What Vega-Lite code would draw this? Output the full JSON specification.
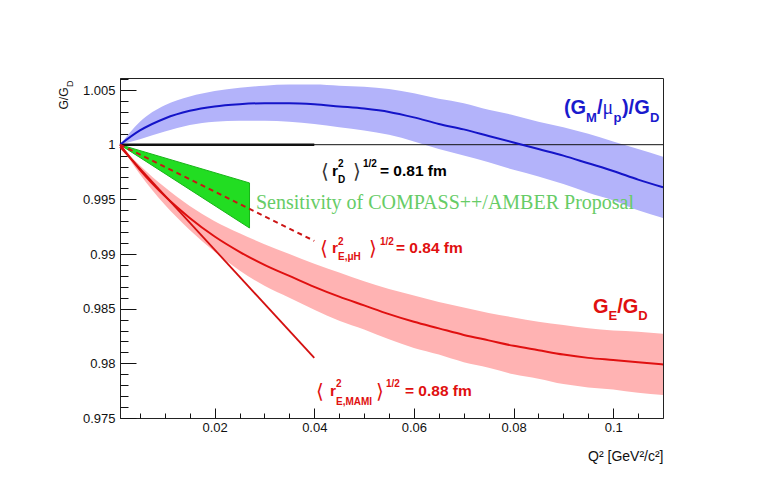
{
  "$schema": "https://vega.github.io/schema/vega-lite/v6.json",
  "width": 543,
  "height": 340,
  "autosize": "none",
  "padding": {"left": 120, "top": 78, "right": 105, "bottom": 59},
  "background": "white",
  "config": {
    "font": "Liberation Sans",
    "view": {"stroke": "#222", "strokeWidth": 1},
    "axis": {
      "grid": false,
      "zindex": 1,
      "tickColor": "#111",
      "domainColor": "#222",
      "labelColor": "#111",
      "labelFont": "Liberation Sans",
      "labelFontSize": 13,
      "labelFlush": false,
      "labelOverlap": false,
      "titleFont": "Liberation Sans",
      "titleFontWeight": "normal",
      "titleColor": "#111"
    }
  },
  "datasets": {
    "blue": [
      {"q": 0.001, "v": 1.0000, "lo": 1.0000, "hi": 1.0000},
      {"q": 0.005, "v": 1.0013, "lo": 1.0005, "hi": 1.0021},
      {"q": 0.010, "v": 1.0024, "lo": 1.0012, "hi": 1.0036},
      {"q": 0.015, "v": 1.0031, "lo": 1.0018, "hi": 1.0044},
      {"q": 0.020, "v": 1.0035, "lo": 1.0021, "hi": 1.0049},
      {"q": 0.025, "v": 1.0037, "lo": 1.0022, "hi": 1.0052},
      {"q": 0.030, "v": 1.0038, "lo": 1.0022, "hi": 1.0054},
      {"q": 0.035, "v": 1.0038, "lo": 1.0021, "hi": 1.0055},
      {"q": 0.040, "v": 1.0037, "lo": 1.0019, "hi": 1.0055},
      {"q": 0.045, "v": 1.0035, "lo": 1.0016, "hi": 1.0054},
      {"q": 0.050, "v": 1.0033, "lo": 1.0013, "hi": 1.0053},
      {"q": 0.055, "v": 1.0030, "lo": 1.0009, "hi": 1.0051},
      {"q": 0.060, "v": 1.0025, "lo": 1.0003, "hi": 1.0047},
      {"q": 0.065, "v": 1.0019, "lo": 0.9996, "hi": 1.0042},
      {"q": 0.070, "v": 1.0014, "lo": 0.9990, "hi": 1.0038},
      {"q": 0.075, "v": 1.0008, "lo": 0.9984, "hi": 1.0032},
      {"q": 0.080, "v": 1.0002, "lo": 0.9977, "hi": 1.0027},
      {"q": 0.085, "v": 0.9996, "lo": 0.9971, "hi": 1.0021},
      {"q": 0.090, "v": 0.9990, "lo": 0.9964, "hi": 1.0016},
      {"q": 0.095, "v": 0.9983, "lo": 0.9956, "hi": 1.0010},
      {"q": 0.100, "v": 0.9976, "lo": 0.9949, "hi": 1.0003},
      {"q": 0.105, "v": 0.9968, "lo": 0.9940, "hi": 0.9996},
      {"q": 0.110, "v": 0.9961, "lo": 0.9933, "hi": 0.9989}
    ],
    "red": [
      {"q": 0.001, "v": 1.0000, "lo": 1.0000, "hi": 1.0000},
      {"q": 0.005, "v": 0.9977, "lo": 0.9973, "hi": 0.9981},
      {"q": 0.010, "v": 0.9953, "lo": 0.9945, "hi": 0.9961},
      {"q": 0.015, "v": 0.9933, "lo": 0.9922, "hi": 0.9944},
      {"q": 0.020, "v": 0.9916, "lo": 0.9902, "hi": 0.9930},
      {"q": 0.025, "v": 0.9902, "lo": 0.9885, "hi": 0.9919},
      {"q": 0.030, "v": 0.9890, "lo": 0.9871, "hi": 0.9909},
      {"q": 0.035, "v": 0.9880, "lo": 0.9860, "hi": 0.9900},
      {"q": 0.040, "v": 0.9870, "lo": 0.9849, "hi": 0.9891},
      {"q": 0.045, "v": 0.9861, "lo": 0.9839, "hi": 0.9883},
      {"q": 0.050, "v": 0.9853, "lo": 0.9831, "hi": 0.9875},
      {"q": 0.055, "v": 0.9845, "lo": 0.9822, "hi": 0.9868},
      {"q": 0.060, "v": 0.9838, "lo": 0.9814, "hi": 0.9862},
      {"q": 0.065, "v": 0.9832, "lo": 0.9808, "hi": 0.9856},
      {"q": 0.070, "v": 0.9826, "lo": 0.9801, "hi": 0.9851},
      {"q": 0.075, "v": 0.9821, "lo": 0.9796, "hi": 0.9846},
      {"q": 0.080, "v": 0.9816, "lo": 0.9790, "hi": 0.9842},
      {"q": 0.085, "v": 0.9812, "lo": 0.9786, "hi": 0.9838},
      {"q": 0.090, "v": 0.9808, "lo": 0.9781, "hi": 0.9835},
      {"q": 0.095, "v": 0.9805, "lo": 0.9778, "hi": 0.9832},
      {"q": 0.100, "v": 0.9803, "lo": 0.9776, "hi": 0.9830},
      {"q": 0.105, "v": 0.9801, "lo": 0.9773, "hi": 0.9829},
      {"q": 0.110, "v": 0.9799, "lo": 0.9771, "hi": 0.9827}
    ],
    "green": [
      {"q": 0.001, "lo": 1.0000, "hi": 1.0000},
      {"q": 0.027, "lo": 0.99238, "hi": 0.9965}
    ]
  },
  "encoding": {
    "x": {"field": "q", "type": "quantitative", "scale": {"domain": [0.001, 0.11], "nice": false, "zero": false}, "axis": null},
    "y": {"field": "v", "type": "quantitative", "scale": {"domain": [0.975, 1.0061], "nice": false, "zero": false}, "axis": null}
  },
  "layer": [
    {
      "data": {"name": "blue"},
      "mark": {"type": "area", "fill": "#b3b3fa", "interpolate": "monotone"},
      "encoding": {
        "x": {
          "field": "q", "type": "quantitative",
          "scale": {"domain": [0.001, 0.11], "nice": false, "zero": false},
          "axis": {
            "orient": "bottom",
            "values": [0.02, 0.04, 0.06, 0.08, 0.1],
            "format": "~g",
            "tickSize": -10,
            "labelPadding": 13,
            "title": "Q² [GeV²/c²]",
            "titleFontSize": 14,
            "titleAnchor": "end",
            "titleAlign": "right",
            "titleBaseline": "alphabetic",
            "titleX": 543,
            "titleY": 42
          }
        },
        "y": {
          "field": "lo", "type": "quantitative",
          "scale": {"domain": [0.975, 1.0061], "nice": false, "zero": false},
          "axis": {
            "orient": "left",
            "values": [0.975, 0.98, 0.985, 0.99, 0.995, 1, 1.005],
            "format": "~g",
            "tickSize": -16,
            "labelPadding": 21,
            "title": "G/G",
            "titleFontSize": 12,
            "titleAngle": -90,
            "titleAlign": "right",
            "titleBaseline": "alphabetic",
            "titleX": -53,
            "titleY": 9
          }
        },
        "y2": {"field": "hi"}
      }
    },
    {
      "data": {"name": "red"},
      "mark": {"type": "area", "fill": "#ffb3b3", "interpolate": "monotone"},
      "encoding": {
        "x": {
          "field": "q", "type": "quantitative",
          "scale": {"domain": [0.001, 0.11], "nice": false, "zero": false},
          "axis": {
            "orient": "bottom",
            "values": [0.005, 0.01, 0.015, 0.025, 0.03, 0.035, 0.045, 0.05, 0.055, 0.065, 0.07, 0.075, 0.085, 0.09, 0.095, 0.105],
            "labels": false,
            "domain": false,
            "tickSize": -5,
            "title": null
          }
        },
        "y": {
          "field": "lo", "type": "quantitative",
          "scale": {"domain": [0.975, 1.0061], "nice": false, "zero": false},
          "axis": {
            "orient": "left",
            "values": [0.976, 0.977, 0.978, 0.979, 0.981, 0.982, 0.983, 0.984, 0.986, 0.987, 0.988, 0.989, 0.991, 0.992, 0.993, 0.994, 0.996, 0.997, 0.998, 0.999, 1.001, 1.002, 1.003, 1.004, 1.006],
            "labels": false,
            "domain": false,
            "tickSize": -8,
            "title": "D",
            "titleFontSize": 9,
            "titleAngle": -90,
            "titleAlign": "right",
            "titleBaseline": "alphabetic",
            "titleX": -48,
            "titleY": 2
          }
        },
        "y2": {"field": "hi"}
      }
    },
    {
      "data": {"name": "green"},
      "mark": {"type": "area", "fill": "#22dd22", "stroke": "#18b418", "strokeWidth": 1},
      "encoding": {
        "y": {"field": "lo", "type": "quantitative", "scale": {"domain": [0.975, 1.0061], "nice": false, "zero": false}, "axis": null},
        "y2": {"field": "hi"}
      }
    },
    {
      "data": {"values": [{"q": 0.001, "v": 1.0}, {"q": 0.11, "v": 1.0}]},
      "mark": {"type": "line", "color": "#111", "strokeWidth": 1},
      "encoding": {}
    },
    {
      "data": {"values": [{"q": 0.001, "v": 1.0}, {"q": 0.04, "v": 1.0}]},
      "mark": {"type": "line", "color": "#111", "strokeWidth": 2.5},
      "encoding": {}
    },
    {
      "data": {"name": "blue"},
      "mark": {"type": "line", "color": "#1414c8", "strokeWidth": 2, "interpolate": "monotone"},
      "encoding": {}
    },
    {
      "data": {"name": "red"},
      "mark": {"type": "line", "color": "#e01010", "strokeWidth": 2, "interpolate": "monotone"},
      "encoding": {}
    },
    {
      "data": {"values": [{"q": 0.001, "v": 0.9998}, {"q": 0.04, "v": 0.9805}]},
      "mark": {"type": "line", "color": "#d41010", "strokeWidth": 1.8},
      "encoding": {}
    },
    {
      "data": {"values": [{"q": 0.001, "v": 1.0}, {"q": 0.04, "v": 0.9912}]},
      "mark": {"type": "line", "color": "#cc1414", "strokeWidth": 2, "strokeDash": [5, 4]},
      "encoding": {}
    },
    {
      "data": {"values": [
        {"q": 0.09012, "v": 1.00281, "text": "(G"},
        {"q": 0.09674, "v": 1.00281, "text": "/"},
        {"q": 0.10176, "v": 1.00281, "text": ")/G"}
      ]},
      "mark": {"type": "text", "align": "left", "baseline": "alphabetic", "fontSize": 20, "fontWeight": "bold", "color": "#1a1acd"},
      "encoding": {"text": {"field": "text"}}
    },
    {
      "data": {"values": [
        {"q": 0.09454, "v": 1.00208, "text": "M"},
        {"q": 0.10006, "v": 1.00208, "text": "p"},
        {"q": 0.10738, "v": 1.00208, "text": "D"}
      ]},
      "mark": {"type": "text", "align": "left", "baseline": "alphabetic", "fontSize": 13, "fontWeight": "bold", "color": "#1a1acd"},
      "encoding": {"text": {"field": "text"}}
    },
    {
      "data": {"values": [{"q": 0.09785, "v": 1.00281, "text": "μ"}]},
      "mark": {"type": "text", "align": "left", "baseline": "alphabetic", "fontSize": 20, "font": "Liberation Serif", "color": "#1a1acd"},
      "encoding": {"text": {"field": "text"}}
    },
    {
      "data": {"values": [
        {"q": 0.09594, "v": 0.98458, "text": "G"},
        {"q": 0.10082, "v": 0.98458, "text": "/G"}
      ]},
      "mark": {"type": "text", "align": "left", "baseline": "alphabetic", "fontSize": 20, "fontWeight": "bold", "color": "#e01010"},
      "encoding": {"text": {"field": "text"}}
    },
    {
      "data": {"values": [
        {"q": 0.09907, "v": 0.98392, "text": "E"},
        {"q": 0.10505, "v": 0.98392, "text": "D"}
      ]},
      "mark": {"type": "text", "align": "left", "baseline": "alphabetic", "fontSize": 13, "fontWeight": "bold", "color": "#e01010"},
      "encoding": {"text": {"field": "text"}}
    },
    {
      "data": {"values": [
        {"q": 0.04355, "v": 0.99714, "text": "r"},
        {"q": 0.05319, "v": 0.99714, "text": "= 0.81 fm"}
      ]},
      "mark": {"type": "text", "align": "left", "baseline": "alphabetic", "fontSize": 15.5, "fontWeight": "bold", "color": "#000"},
      "encoding": {"text": {"field": "text"}}
    },
    {
      "data": {"values": [
        {"q": 0.04476, "v": 0.99796, "text": "2"},
        {"q": 0.04476, "v": 0.9965, "text": "D"},
        {"q": 0.04978, "v": 0.99796, "text": "1/2"}
      ]},
      "mark": {"type": "text", "align": "left", "baseline": "alphabetic", "fontSize": 10, "fontWeight": "bold", "color": "#000"},
      "encoding": {"text": {"field": "text"}}
    },
    {
      "data": {"values": [
        {"q": 0.04135, "v": 0.99695, "text": "⟨"},
        {"q": 0.04777, "v": 0.99695, "text": "⟩"}
      ]},
      "mark": {"type": "text", "align": "left", "baseline": "alphabetic", "fontSize": 20, "font": "DejaVu Sans", "color": "#333"},
      "encoding": {"text": {"field": "text"}}
    },
    {
      "data": {"values": [
        {"q": 0.04355, "v": 0.99009, "text": "r"},
        {"q": 0.0564, "v": 0.99009, "text": "= 0.84 fm"},
        {"q": 0.04315, "v": 0.97701, "text": "r"},
        {"q": 0.05821, "v": 0.97701, "text": "= 0.88 fm"}
      ]},
      "mark": {"type": "text", "align": "left", "baseline": "alphabetic", "fontSize": 15.5, "fontWeight": "bold", "color": "#e01010"},
      "encoding": {"text": {"field": "text"}}
    },
    {
      "data": {"values": [
        {"q": 0.04476, "v": 0.99083, "text": "2"},
        {"q": 0.04476, "v": 0.98945, "text": "E,μH"},
        {"q": 0.05319, "v": 0.99083, "text": "1/2"},
        {"q": 0.04436, "v": 0.97784, "text": "2"},
        {"q": 0.04436, "v": 0.97619, "text": "E,MAMI"},
        {"q": 0.05439, "v": 0.97784, "text": "1/2"}
      ]},
      "mark": {"type": "text", "align": "left", "baseline": "alphabetic", "fontSize": 10, "fontWeight": "bold", "color": "#e01010"},
      "encoding": {"text": {"field": "text"}}
    },
    {
      "data": {"values": [
        {"q": 0.04115, "v": 0.98991, "text": "⟨"},
        {"q": 0.05098, "v": 0.98991, "text": "⟩"},
        {"q": 0.04034, "v": 0.97683, "text": "⟨"},
        {"q": 0.05239, "v": 0.97683, "text": "⟩"}
      ]},
      "mark": {"type": "text", "align": "left", "baseline": "alphabetic", "fontSize": 20, "font": "DejaVu Sans", "color": "#e01010"},
      "encoding": {"text": {"field": "text"}}
    },
    {
      "data": {"values": [{"q": 0.0283, "v": 0.99412, "text": "Sensitivity of COMPASS++/AMBER Proposal"}]},
      "mark": {"type": "text", "align": "left", "baseline": "alphabetic", "fontSize": 20, "font": "Liberation Serif", "color": "#66cc66"},
      "encoding": {"text": {"field": "text"}}
    }
  ],
  "resolve": {"axis": {"x": "independent", "y": "independent"}}
}
